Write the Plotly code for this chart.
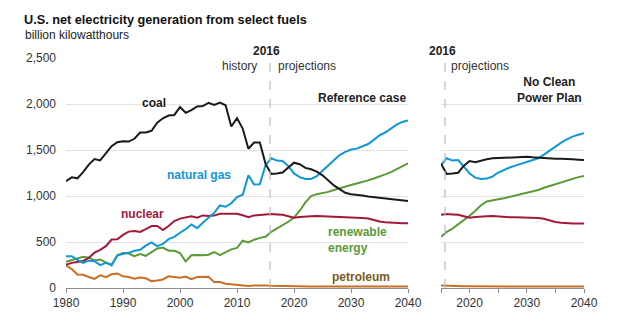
import plotly.graph_objects as go

# ---------------- data ----------------
years_ref = list(range(1980, 2041))
years_ncpp = list(range(2015, 2041))

coal_ref = [1162, 1203, 1192, 1259, 1342, 1402, 1386, 1464, 1541, 1584,
            1594, 1592, 1622, 1690, 1691, 1709, 1796, 1845, 1874, 1881,
            1966, 1904, 1933, 1974, 1978, 2013, 1991, 2016, 1986, 1756,
            1847, 1733, 1514, 1581, 1582, 1352, 1240,
            1245, 1255, 1310, 1362, 1345, 1305, 1290, 1265, 1225, 1165,
            1115, 1075, 1035, 1020, 1015, 1005, 995, 988, 980, 975,
            965, 957, 950, 945]
gas_ref = [346, 346, 305, 274, 297, 292, 249, 273, 253, 352,
           373, 382, 404, 415, 460, 496, 455, 479, 531, 556,
           601, 639, 691, 650, 710, 761, 816, 897, 883, 921,
           988, 1014, 1226, 1125, 1127, 1335, 1410,
           1385, 1380, 1325, 1245, 1205, 1185, 1185, 1215, 1275, 1335,
           1395, 1445, 1480, 1505, 1515, 1540, 1565, 1610, 1660, 1690,
           1735, 1775, 1805, 1820]
nuclear_ref = [251, 273, 283, 294, 328, 384, 414, 455, 527, 529,
               577, 613, 619, 610, 640, 673, 675, 629, 673, 728,
               754, 769, 780, 764, 789, 782, 787, 806, 806, 799,
               807, 790, 769, 789, 797, 797, 805,
               800, 795, 780, 765, 772, 778, 780, 782, 780, 772,
               770, 770, 768, 768, 766, 762, 755, 735, 722, 715,
               710, 707, 705, 705]
renew_ref = [286, 305, 320, 340, 330, 300, 310, 280, 245, 355,
             380, 375, 345, 370, 350, 390, 430, 440, 405, 405,
             380, 288, 355, 360, 355, 362, 390, 358, 390, 420,
             435, 514, 495, 525, 545, 556, 610,
             645, 685, 720, 765, 840, 930, 1000, 1020, 1030, 1045,
             1065, 1085, 1105, 1120, 1135, 1150, 1170, 1190, 1210, 1235,
             1260, 1290, 1320, 1355]
petro_ref = [246, 206, 147, 144, 120, 100, 137, 118, 149, 158,
             127, 120, 100, 113, 106, 75, 82, 93, 128, 118,
             111, 125, 95, 119, 121, 122, 64, 66, 46, 39,
             37, 30, 23, 27, 30, 28, 24,
             22, 20, 19, 18, 18, 17, 17, 17, 16, 16,
             16, 16, 16, 16, 16, 15, 15, 15, 15, 15,
             15, 15, 15, 15]

coal_ncpp = [1352, 1240, 1245, 1253, 1330, 1380, 1366, 1385, 1400, 1409,
             1412, 1415, 1418, 1422, 1427, 1426, 1420, 1415, 1410, 1408,
             1406, 1405, 1405, 1400, 1395, 1390]
gas_ncpp = [1335, 1410, 1385, 1390, 1320, 1245, 1200, 1185, 1190, 1210,
            1255, 1285, 1310, 1330, 1350, 1365, 1385, 1410, 1450, 1495,
            1540, 1580, 1615, 1645, 1665, 1682]
nuclear_ncpp = [797, 805, 800, 795, 780, 765, 772, 778, 780, 782,
                775, 768, 768, 768, 768, 768, 765, 760, 752, 732,
                718, 708, 703, 702, 702, 702]
renew_ncpp = [556, 610, 645, 690, 735, 785, 840, 900, 940, 955,
              965, 975, 990, 1003, 1015, 1030, 1045, 1065, 1090, 1110,
              1130, 1150, 1170, 1190, 1205, 1217]
petro_ncpp = [28, 24, 22, 20, 19, 18, 18, 17, 17, 17,
              16, 16, 16, 16, 16, 16, 16, 15, 15, 15,
              15, 15, 15, 15, 15, 15]

y_ticks = [0, 500, 1000, 1500, 2000, 2500]
x_ticks_left = [1980, 1990, 2000, 2010, 2020, 2030, 2040]
x_ticks_right = [2015, 2020, 2025, 2030, 2035, 2040]
x_text_right = ["", "2020", "", "2030", "", "2040"]

# ---------------- style ----------------
FONT = "Liberation Sans, Arial, sans-serif"
C_COAL = "#1a1a1a"
C_GAS = "#0f96d7"
C_NUC = "#a3193a"
C_REN = "#5a9a38"
C_PET = "#c96f24"
C_PET_LBL = "#7a5a1e"
TXT = "#333333"

fig = go.Figure()

series = [
    (petro_ref, petro_ncpp, C_PET),
    (renew_ref, renew_ncpp, C_REN),
    (nuclear_ref, nuclear_ncpp, C_NUC),
    (gas_ref, gas_ncpp, C_GAS),
    (coal_ref, coal_ncpp, C_COAL),
]
for ref, ncpp, col in series:
    fig.add_trace(go.Scatter(x=years_ref, y=ref, mode="lines",
                             line=dict(color=col, width=2),
                             xaxis="x", yaxis="y", showlegend=False,
                             hoverinfo="skip"))
    fig.add_trace(go.Scatter(x=years_ncpp, y=ncpp, mode="lines",
                             line=dict(color=col, width=2),
                             xaxis="x2", yaxis="y2", showlegend=False,
                             hoverinfo="skip"))

W, H = 636, 322
ML, MR, MT, MB = 66, 52, 58, 34
PW = W - ML - MR
PH = H - MT - MB
dom_left = [0, (408 - ML) / PW]
dom_right = [(441 - ML) / PW, 1]

axis_common = dict(showline=True, linecolor="#8c8c8c", linewidth=1,
                   ticks="outside", ticklen=4, tickcolor="#8c8c8c",
                   tickfont=dict(family=FONT, size=12, color=TXT),
                   showgrid=False, zeroline=False, fixedrange=True)

fig.update_layout(
    width=W, height=H,
    margin=dict(l=ML, r=MR, t=MT, b=MB, pad=0),
    paper_bgcolor="white", plot_bgcolor="white",
    font=dict(family=FONT, size=12, color=TXT),
    xaxis=dict(domain=dom_left, range=[1980, 2040], tickvals=x_ticks_left,
               anchor="y", **axis_common),
    xaxis2=dict(domain=dom_right, range=[2015, 2040], tickvals=x_ticks_right,
                ticktext=x_text_right, anchor="y2", **axis_common),
    yaxis=dict(range=[0, 2500], tickvals=y_ticks, tickformat=",",
               showgrid=True, gridcolor="#e3e3e3", gridwidth=1,
               zeroline=False, showline=False, ticks="",
               ticklabelstandoff=9,
               tickfont=dict(family=FONT, size=12, color=TXT),
               anchor="x", fixedrange=True),
    yaxis2=dict(range=[0, 2500], tickvals=y_ticks, showticklabels=False,
                showgrid=True, gridcolor="#e3e3e3", gridwidth=1,
                zeroline=False, showline=False, ticks="",
                anchor="x2", fixedrange=True),
)

# dashed 2016 separators
fig.add_shape(type="line", xref="x", yref="y", x0=2015.8, x1=2015.8,
              y0=0, y1=2500, line=dict(color="#bdbdbd", width=1.2, dash="dash"))
fig.add_shape(type="line", xref="x2", yref="y2", x0=2015.7, x1=2015.7,
              y0=0, y1=2500, line=dict(color="#bdbdbd", width=1.2, dash="dash"))

def ann(text, x, y, xref="x", yref="y", color=TXT, bold=False,
        xanchor="center", yanchor="middle", align="center", size=12):
    if bold:
        text = "<b>" + text.replace("<br>", "</b><br><b>") + "</b>"
    fig.add_annotation(text=text, x=x, y=y, xref=xref, yref=yref,
                       showarrow=False, xanchor=xanchor, yanchor=yanchor,
                       align=align,
                       font=dict(family=FONT, size=size, color=color))

def py(pix):
    return (H - MB - pix) / PH

def px(pix):
    return (pix - ML) / PW

# title & subtitle
ann("U.S. net electricity generation from select fuels", px(22), py(20),
    xref="paper", yref="paper", color="#111111", bold=True, xanchor="left",
    size=12.7)
ann("billion kilowatthours", px(23), py(35), xref="paper", yref="paper",
    color="#222222", xanchor="left")

# headings
ann("2016", px(266.7), py(51), xref="paper", yref="paper",
    color="#222222", bold=True)
ann("2016", px(442.5), py(51), xref="paper", yref="paper",
    color="#222222", bold=True)
ann("history", 2013.9, 2416, color=TXT, xanchor="right")
ann("projections", 2016.8, 2416, color=TXT, xanchor="left")
ann("projections", 2016.4, 2416, xref="x2", yref="y2", color=TXT, xanchor="left")
ann("Reference case", 2040, 2068, color="#222222", bold=True, xanchor="right")
ann("No Clean<br>Power Plan", 2033.9, 2150, xref="x2", yref="y2",
    color="#222222", bold=True)

# series labels
ann("coal", 1995.5, 2011, color=C_COAL, bold=True)
ann("natural gas", 2003.3, 1228, color=C_GAS, bold=True)
ann("nuclear", 1993.5, 804, color=C_NUC, bold=True)
ann("renewable<br>energy", 2025.7, 525, color=C_REN, bold=True,
    xanchor="left", align="left")
ann("petroleum", 2026.4, 123, color=C_PET_LBL, bold=True, xanchor="left")

fig.write_html("out.html")
